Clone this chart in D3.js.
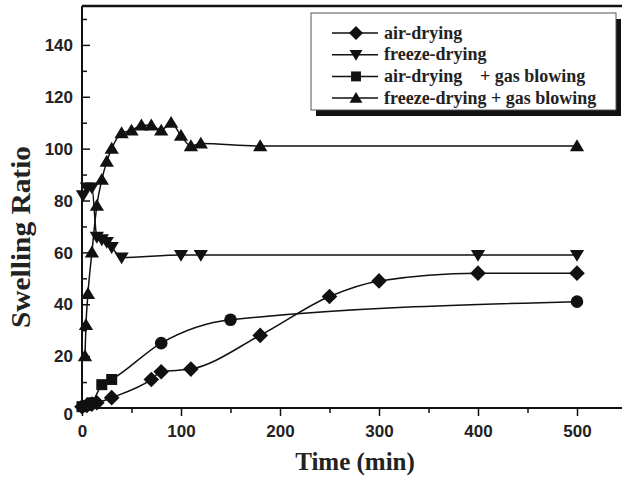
<!DOCTYPE html>
<html>
<head>
<meta charset="utf-8">
<script src="https://cdn.jsdelivr.net/npm/d3@7"></script>
<style>
  body { margin: 0; background: #fff; }
  svg { display: block; }
</style>
</head>
<body>
<svg id="chart" width="622" height="482"></svg>
<script>
// Data: [time (min), swelling ratio]
const seriesNames = ['air-drying', 'freeze-drying', 'air-drying', 'freeze-drying'];
const airDrying = [[0, 0.5], [5, 1], [10, 1.5], [15, 2], [30, 4], [70, 11], [80, 14], [110, 15],
  [180, 28], [250, 43], [300, 49], [400, 52], [500, 52]];
const freezeDrying = [[1, 82], [5, 85], [10, 85], [15, 66], [20, 65], [25, 64], [30, 62], [40, 58],
  [100, 59], [120, 59], [400, 59], [500, 59]];
const airGas = [[0, 0.5], [5, 1], [10, 2], [20, 9], [30, 11], [80, 25], [150, 34], [500, 41]];
const airGasShapes = ['square', 'square', 'square', 'square', 'square', 'circle', 'circle', 'circle'];
const freezeGas = [[3, 20], [4, 32], [6, 44], [10, 60], [15, 78], [20, 88], [25, 95], [30, 100],
  [40, 106], [50, 107], [60, 109], [70, 109], [80, 107], [90, 110], [100, 105], [110, 101],
  [120, 102], [180, 101], [500, 101]];
const xTicks = [0, 100, 200, 300, 400, 500];
const yTicks = [0, 20, 40, 60, 80, 100, 120, 140];

const svg = d3.select('#chart');
const plotLeft = 82, plotTop = 6, plotBottom = 408;

const x = d3.scaleLinear().domain([0, 550]).range([plotLeft, plotLeft + 550 * 0.99]);
const y = d3.scaleLinear().domain([0, 155]).range([plotBottom, plotTop]);

// marker shapes
function shape(type, s) {
  if (type === 'diamond') return `M0,${-s}L${s},0L0,${s}L${-s},0Z`;
  if (type === 'up') return `M0,${-s}L${s * 1.05},${s * 0.75}L${-s * 1.05},${s * 0.75}Z`;
  if (type === 'down') return `M0,${s}L${s * 1.05},${-s * 0.75}L${-s * 1.05},${-s * 0.75}Z`;
  if (type === 'square') return `M${-s},${-s}H${s}V${s}H${-s}Z`;
  return d3.symbol(d3.symbolCircle, Math.PI * s * s)();
}
const sizes = { diamond: 7.8, up: 6.8, down: 6.8, square: 5.5, circle: 6.3 };

const series = [
  { data: airDrying, shapes: airDrying.map(() => 'diamond') },
  { data: freezeDrying, shapes: freezeDrying.map(() => 'down') },
  { data: airGas, shapes: airGasShapes },
  { data: freezeGas, shapes: freezeGas.map(() => 'up') }
];

const line = d3.line()
  .x(d => x(d[0]))
  .y(d => y(d[1]))
  .curve(d3.curveMonotoneX);

// lines
series.forEach(s => {
  svg.append('path')
    .attr('d', line(s.data))
    .attr('fill', 'none')
    .attr('stroke', '#111')
    .attr('stroke-width', 1.5);
});

// markers
series.forEach(s => {
  svg.append('g').selectAll('path')
    .data(s.data)
    .enter()
    .append('path')
    .attr('transform', d => `translate(${x(d[0])},${y(d[1])})`)
    .attr('d', (d, i) => shape(s.shapes[i], sizes[s.shapes[i]]))
    .attr('fill', '#111');
});

// top frame
svg.append('line')
  .attr('x1', plotLeft).attr('x2', 622)
  .attr('y1', plotTop).attr('y2', plotTop)
  .attr('stroke', '#111').attr('stroke-width', 2.5);

// x axis (ticks pointing down)
const xAxis = svg.append('g').attr('transform', `translate(0,${plotBottom})`);
xAxis.call(d3.axisBottom(x).tickValues(d3.range(50, 551, 100)).tickSize(5).tickFormat(''));
xAxis.call(g => g.select('.domain').remove());
xAxis.append('g').call(d3.axisBottom(x).tickValues(xTicks).tickSize(8).tickPadding(9))
  .call(g => g.select('.domain').remove());
xAxis.append('line')
  .attr('x1', plotLeft).attr('x2', 622)
  .attr('stroke', '#111').attr('stroke-width', 2);

// y axis (ticks pointing inward)
const yAxis = svg.append('g').attr('transform', `translate(${plotLeft},0)`);
yAxis.call(d3.axisRight(y).tickValues(d3.range(10, 155, 20)).tickSize(5).tickFormat(''));
yAxis.call(g => g.select('.domain').remove());
yAxis.append('g').call(d3.axisRight(y).tickValues(yTicks).tickSize(8).tickFormat(''))
  .call(g => g.select('.domain').remove());
yAxis.append('line')
  .attr('y1', plotTop).attr('y2', plotBottom + 1)
  .attr('stroke', '#111').attr('stroke-width', 2);
yAxis.selectAll('.ylab')
  .data(yTicks)
  .enter()
  .append('text')
  .attr('class', 'ylab')
  .attr('x', -9)
  .attr('y', d => y(d) + (d === 0 ? 6 : 0))
  .attr('dy', '0.36em')
  .attr('text-anchor', 'end')
  .text(d => d);

svg.selectAll('.tick line').attr('stroke', '#111').attr('stroke-width', 1.5);
svg.selectAll('.tick text, .ylab')
  .attr('fill', '#222')
  .style('font-family', '"Liberation Sans", Arial, sans-serif')
  .style('font-weight', 'bold')
  .style('font-size', '17px');

// axis titles
svg.append('text')
  .attr('x', 355)
  .attr('y', 470)
  .attr('text-anchor', 'middle')
  .style('font-family', '"Liberation Serif", "Times New Roman", serif')
  .style('font-weight', 'bold')
  .style('font-size', '25px')
  .attr('fill', '#222')
  .text('Time (min)');

svg.append('text')
  .attr('transform', 'translate(30,237) rotate(-90)')
  .attr('text-anchor', 'middle')
  .attr('textLength', 182)
  .attr('lengthAdjust', 'spacingAndGlyphs')
  .style('font-family', '"Liberation Serif", "Times New Roman", serif')
  .style('font-weight', 'bold')
  .style('font-size', '27px')
  .attr('fill', '#222')
  .text('Swelling Ratio');

// legend
const legend = svg.append('g').attr('id', 'legend');
legend.append('rect')
  .attr('x', 316).attr('y', 19).attr('width', 305).attr('height', 97)
  .attr('fill', '#111');
legend.append('rect')
  .attr('x', 311).attr('y', 13).attr('width', 305).attr('height', 97)
  .attr('fill', '#fff').attr('stroke', '#555').attr('stroke-width', 1);

const legendShapes = ['diamond', 'down', 'square', 'up'];
const rows = legend.selectAll('.row')
  .data(seriesNames)
  .enter()
  .append('g')
  .attr('class', 'row')
  .attr('transform', (d, i) => `translate(0,${33 + i * 21.7})`);
rows.append('line')
  .attr('x1', 332).attr('x2', 378)
  .attr('stroke', '#111').attr('stroke-width', 1.5);
rows.append('path')
  .attr('transform', 'translate(356,0)')
  .attr('d', (d, i) => shape(legendShapes[i], sizes[legendShapes[i]] * 0.9))
  .attr('fill', '#111');
rows.append('text')
  .attr('x', 384)
  .attr('dy', '0.32em')
  .text(d => d);
rows.filter((d, i) => i >= 2)
  .append('text')
  .attr('x', (d, i) => i === 0 ? 480 : 491)
  .attr('dy', '0.32em')
  .text('+ gas blowing');
rows.selectAll('text')
  .style('font-family', '"Liberation Serif", "Times New Roman", serif')
  .style('font-weight', 'bold')
  .style('font-size', '18px')
  .attr('fill', '#222');
</script>
</body>
</html>
